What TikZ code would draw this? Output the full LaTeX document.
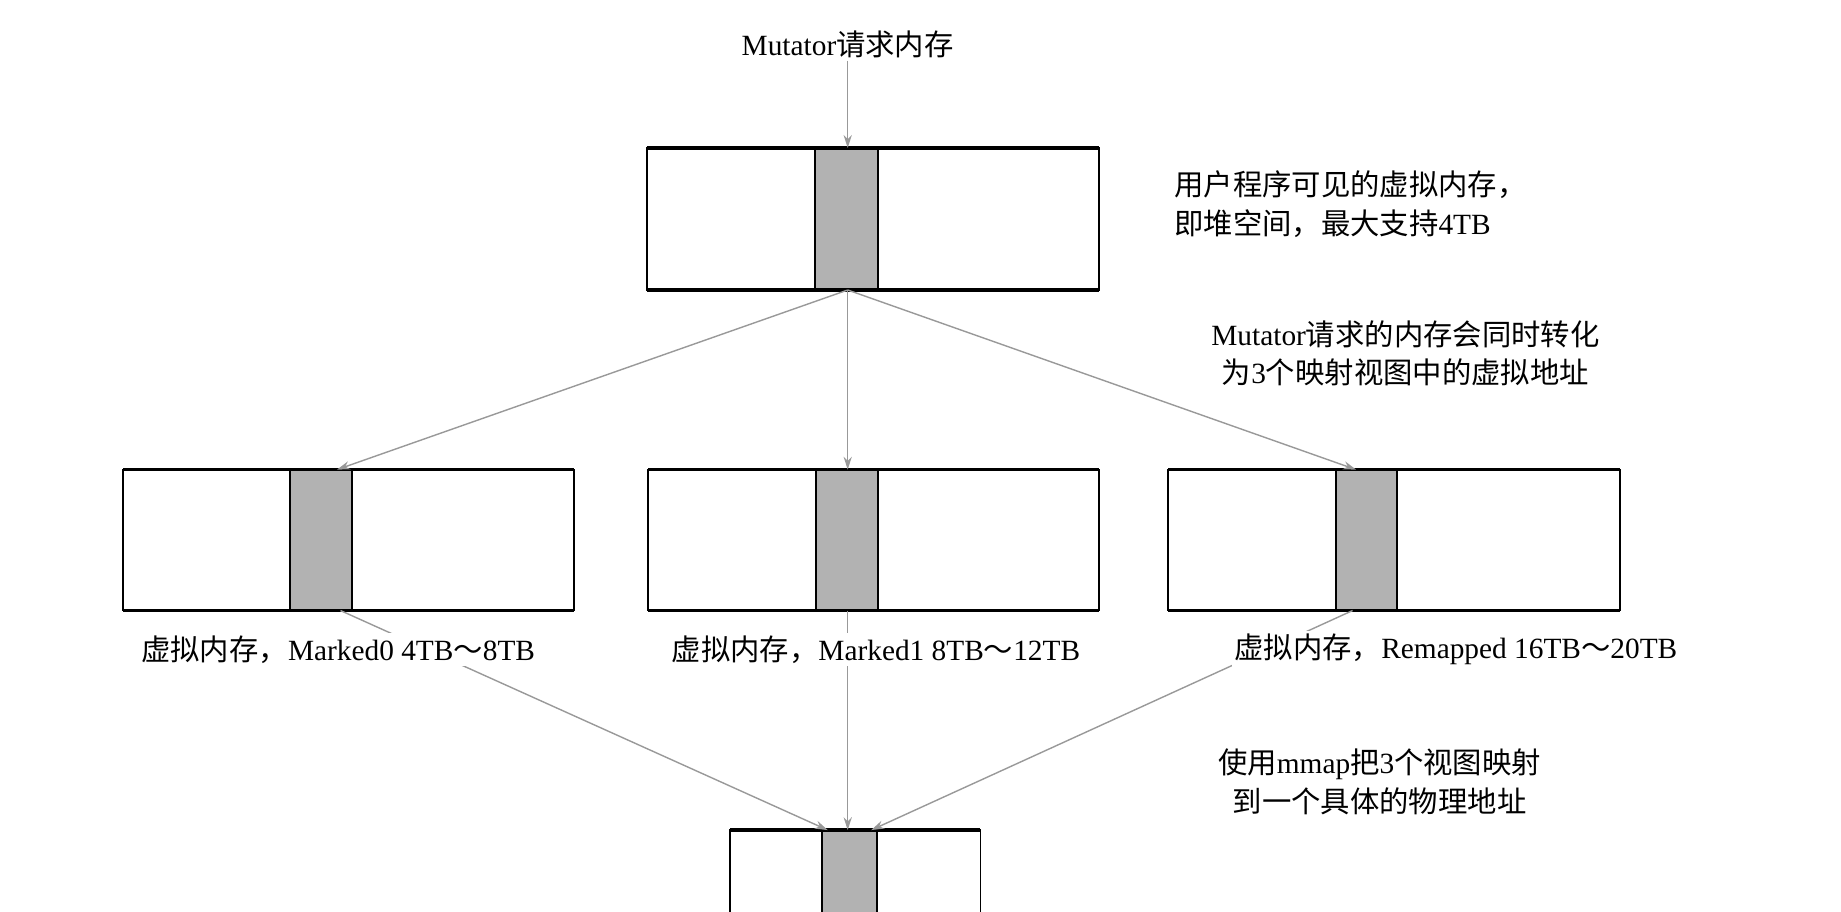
\documentclass[tikz,border=0pt]{standalone}
\usepackage{fontspec}
\usetikzlibrary{arrows.meta}
\setmainfont{Liberation Serif}
\newfontfamily\cjk{Noto Sans CJK SC}
\begin{document}
\begin{tikzpicture}[x=1pt,y=-1pt,
  lbl/.style={font=\fontsize{25}{33}\selectfont, inner sep=2pt, align=center},
  con/.style={draw=black!40, line width=1.2pt, -{Stealth[length=11pt,width=7pt]}},
  boxline/.style={line width=1.4pt},
  stripe/.style={fill=black!30, draw=black, line width=1.4pt}]
\useasboundingbox (0,0) rectangle (1568,776);
% top text
\node[lbl] (mut) at (722,38) {Mutator{\cjk 请求内存}};
% top box
\fill[white] (551,126) rectangle (936,247);
\draw[stripe] (694,126) rectangle (748,247);
\draw[boxline] (551,126) rectangle (936,247);
\draw[line width=3pt] (551,126) -- (936,126) (551,247) -- (936,247);
\coordinate (topT) at (722,126);
\coordinate (topB) at (722,247);
% middle boxes
\foreach \a/\b/\s/\t in {105/489/247/300, 552/936/695/748, 995/1380/1138/1190}{
  \draw[stripe] (\s,400) rectangle (\t,520);
  \draw[boxline] (\a,400) rectangle (\b,520);
  \draw[line width=3pt] (\a,400) -- (\b,400) (\a,520) -- (\b,520);
}
\coordinate (m1T) at (287,400);
\coordinate (m2T) at (722,400);
\coordinate (m3T) at (1155,400);
\coordinate (m1B) at (290,520);
\coordinate (m2B) at (722,520);
\coordinate (m3B) at (1152,520);
% bottom box
\draw[stripe] (700,707) rectangle (747,790);
\draw[boxline] (622,707) rectangle (835,790);
\draw[line width=3pt] (622,707) -- (835,707);
\coordinate (botT1) at (705,707);
\coordinate (botT2) at (722,707);
\coordinate (botT3) at (742,707);
% connectors
\draw[con] (mut) -- (topT);
\draw[con] (topB) -- (m1T);
\draw[con] (topB) -- (m2T);
\draw[con] (topB) -- (m3T);
\draw[con] (m1B) -- (botT1);
\draw[con] (m2B) -- (botT2);
\draw[con] (m3B) -- (botT3);
% labels
\node[lbl, fill=white] (l1) at (288,553) {{\cjk 虚拟内存，}Marked0 4TB{\cjk ～}8TB};
\node[lbl, fill=white] (l2) at (746,553) {{\cjk 虚拟内存，}Marked1 8TB{\cjk ～}12TB};
\node[lbl, fill=white] (l3) at (1240,553) {{\cjk 虚拟内存，}Remapped 16TB{\cjk ～}20TB};
\node[lbl, align=left, anchor=west] (t1) at (998,174) {{\cjk 用户程序可见的虚拟内存，}\\{\cjk 即堆空间，最大支持}4TB};
\node[lbl] (t2) at (1197,301) {Mutator{\cjk 请求的内存会同时转化}\\{\cjk 为}3{\cjk 个映射视图中的虚拟地址}};
\node[lbl] (t3) at (1175,666) {{\cjk 使用}mmap{\cjk 把}3{\cjk 个视图映射}\\{\cjk 到一个具体的物理地址}};
\end{tikzpicture}
\end{document}
